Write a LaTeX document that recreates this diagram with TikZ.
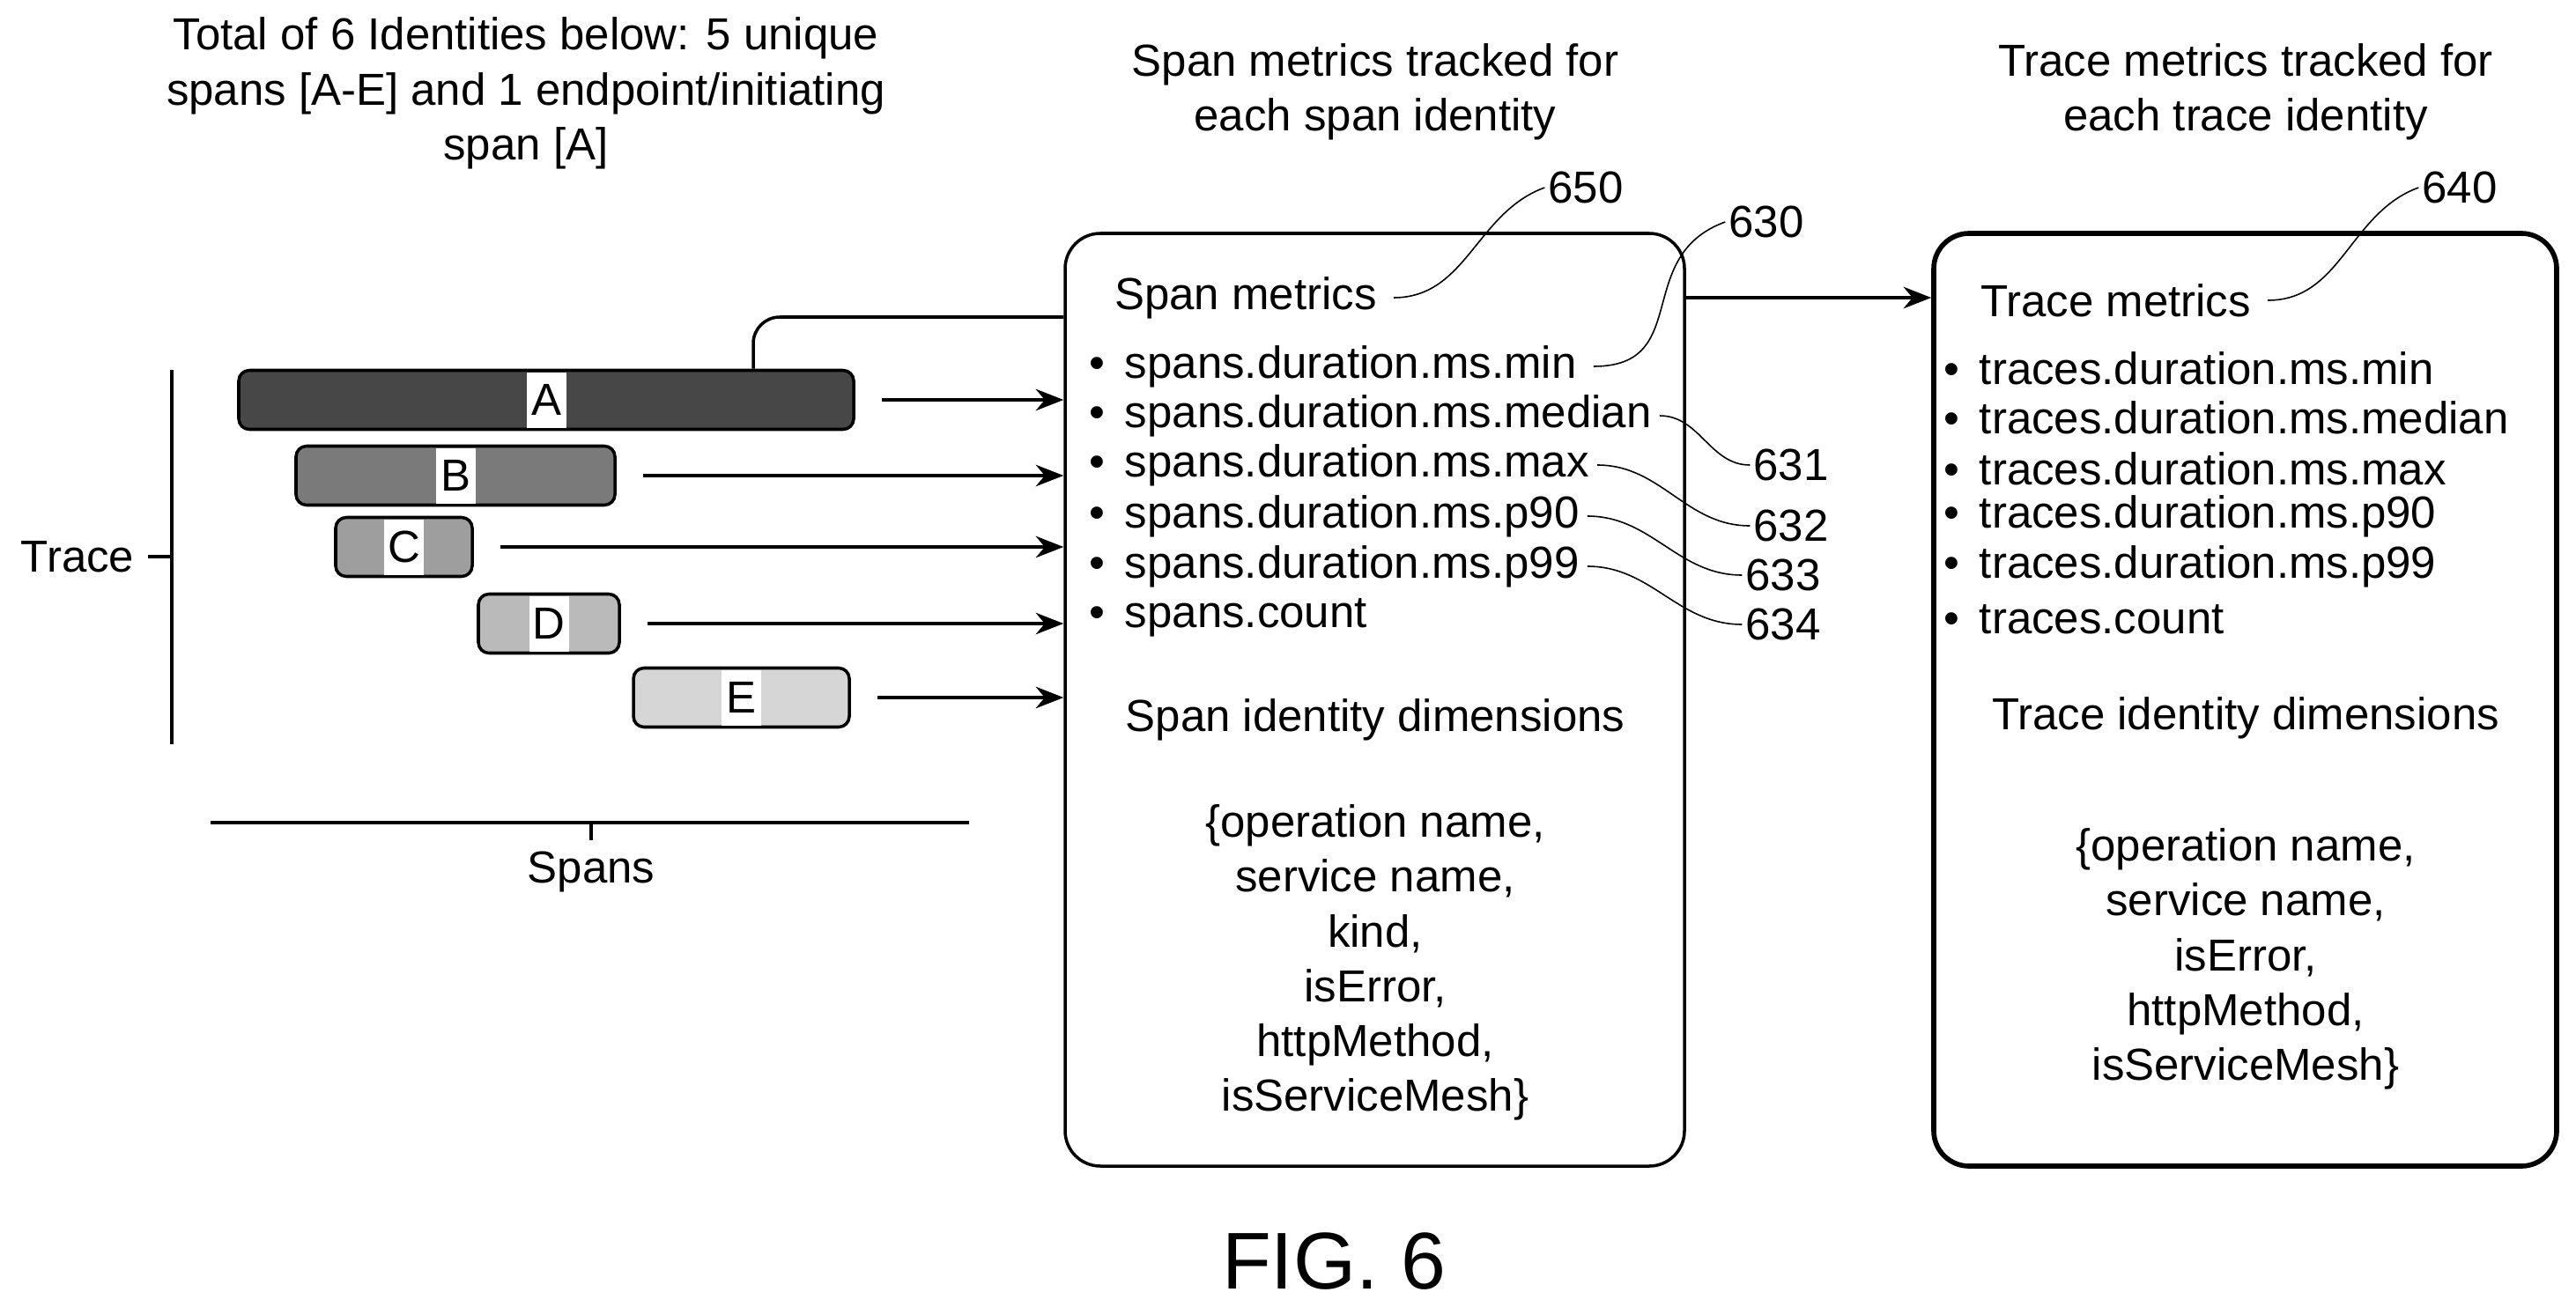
\documentclass[tikz,border=0pt]{standalone}
\usepackage{fontspec}
\setmainfont{Liberation Sans}
\usetikzlibrary{positioning,arrows.meta}
\tikzset{txt/.style={font=\fontsize{14.5}{17.7}\selectfont, inner sep=1pt, align=center}}
\tikzset{item/.style={txt, anchor=west, align=left}}
\tikzset{bar/.style={draw, line width=1pt, rounded corners=0.12cm, minimum height=0.67cm}}
\tikzset{patch/.style={fill=white, txt, minimum width=0.45cm, minimum height=0.63cm, inner sep=0pt}}
\tikzset{mbox/.style={draw, rounded corners=0.4cm, minimum height=10.59cm}}
\tikzset{arr/.style={draw, -{Stealth[length=9pt,width=7pt]}, line width=0.9pt}}
\tikzset{lead/.style={draw, line width=0.45pt}}
\newcommand{\itm}[1]{\textbullet\hspace{0.45em}#1}

\begin{document}
\begin{tikzpicture}
	\useasboundingbox (0,0) rectangle (29.24,-14.84);
	% titles
	\node[txt] (ttl) at (5.97,-1.06) {Total of 6 Identities below: 5 unique\\spans [A-E] and 1 endpoint/initiating\\span [A]};
	\node[txt] (sttl) at (15.61,-1.04) {Span metrics tracked for\\each span identity};
	\node[txt] (tttl) at (25.49,-1.04) {Trace metrics tracked for\\each trace identity};
	%
	% span bars
	\node[bar, fill=black!72, minimum width=6.98cm] (A) at (6.20,-4.54) {};
	\node[bar, fill=black!52, minimum width=3.62cm] (B) at (5.17,-5.40) {};
	\node[bar, fill=black!38, minimum width=1.55cm] (C) at (4.585,-6.21) {};
	\node[bar, fill=black!27, minimum width=1.60cm] (D) at (6.23,-7.08) {};
	\node[bar, fill=black!16, minimum width=2.45cm] (E) at (8.415,-7.92) {};
	\foreach \b in {A,B,C,D,E}
		\node[patch] at (\b) {\b};
	%
	% axes
	\node[txt] (trace) at (0.88,-6.32) {Trace};
	\coordinate (ttop) at (1.95,-4.20);
	\coordinate (tbot) at (1.95,-8.45);
	\draw[line width=0.9pt] (ttop) -- (tbot);
	\draw[line width=0.9pt] (trace.east) ++(0.12,0) -- (trace.east -| ttop);
	\coordinate (sl) at (2.39,-9.34);
	\coordinate (sr) at (11.00,-9.34);
	\draw[line width=0.9pt] (sl) -- (sr);
	\node[txt] (spans) at (6.71,-9.90) {Spans};
	\draw[line width=0.9pt] (spans.north |- sl) -- ++(0,-0.2);
	%
	% span box
	\node[mbox, line width=1pt, minimum width=7.03cm] (sbox) at (15.605,-7.945) {};
	\node[item] (smet) at (12.61,-3.38) {Span metrics};
	\node[item] (s1) at (12.32,-4.16) {\itm{spans.duration.ms.min}};
	\node[item] (s2) at (12.32,-4.72) {\itm{spans.duration.ms.median}};
	\node[item] (s3) at (12.32,-5.28) {\itm{spans.duration.ms.max}};
	\node[item] (s4) at (12.32,-5.86) {\itm{spans.duration.ms.p90}};
	\node[item] (s5) at (12.32,-6.43) {\itm{spans.duration.ms.p99}};
	\node[item] (s6) at (12.32,-7.01) {\itm{spans.count}};
	\node[txt] (sdim) at (15.61,-8.17) {Span identity dimensions};
	\node[txt] (sset) at (15.61,-10.93) {\{operation name,\\service name,\\kind,\\isError,\\httpMethod,\\isServiceMesh\}};
	%
	% trace box
	\node[mbox, line width=1.6pt, minimum width=7.07cm] (tbox) at (25.485,-7.945) {};
	\node[item] (tmet) at (22.44,-3.41) {Trace metrics};
	\node[item] (t1) at (22.02,-4.18) {\itm{traces.duration.ms.min}};
	\node[item] (t2) at (22.02,-4.74) {\itm{traces.duration.ms.median}};
	\node[item] (t3) at (22.02,-5.32) {\itm{traces.duration.ms.max}};
	\node[item] (t4) at (22.02,-5.86) {\itm{traces.duration.ms.p90}};
	\node[item] (t5) at (22.02,-6.43) {\itm{traces.duration.ms.p99}};
	\node[item] (t6) at (22.02,-7.03) {\itm{traces.count}};
	\node[txt] (tdim) at (25.49,-8.15) {Trace identity dimensions};
	\node[txt] (tset) at (25.49,-10.89) {\{operation name,\\service name,\\isError,\\httpMethod,\\isServiceMesh\}};
	%
	% reference numerals
	\node[txt] (l650) at (18.00,-2.13) {650};
	\node[txt] (l630) at (20.05,-2.52) {630};
	\node[txt] (l631) at (20.33,-5.28) {631};
	\node[txt] (l632) at (20.33,-5.97) {632};
	\node[txt] (l633) at (20.24,-6.53) {633};
	\node[txt] (l634) at (20.24,-7.09) {634};
	\node[txt] (l640) at (27.92,-2.13) {640};
	\draw[lead] (smet.east) ++(0.15,0) to[out=0,in=200] (l650.west);
	\draw[lead] (s1.east) ++(0.15,0) to[out=0,in=200, looseness=1.3] (l630.west);
	\draw[lead] (s2.east) ++(0.05,0) to[out=0,in=180] (l631.west);
	\draw[lead] (s3.east) ++(0.05,0) to[out=0,in=180] (l632.west);
	\draw[lead] (s4.east) ++(0.05,0) to[out=0,in=180] (l633.west);
	\draw[lead] (s5.east) ++(0.05,0) to[out=0,in=180] (l634.west);
	\draw[lead] (tmet.east) ++(0.15,0) to[out=0,in=200] (l640.west);
	%
	% connectors
	\foreach \b in {A,B,C,D,E}
		\draw[arr, shorten <=0.3cm] (\b.east) -- (\b.east -| sbox.west);
	\coordinate (aj) at (8.55,-3.60);
	\draw[line width=1pt, rounded corners=0.3cm] (A.north -| aj) -- (aj) -- (aj -| sbox.west);
	\draw[arr] (sbox.east |- smet) -- (tbox.west |- smet);
	%
	\node[font=\fontsize{26}{30}\selectfont] (fig) at (15.14,-14.32) {FIG. 6};
\end{tikzpicture}
\end{document}
